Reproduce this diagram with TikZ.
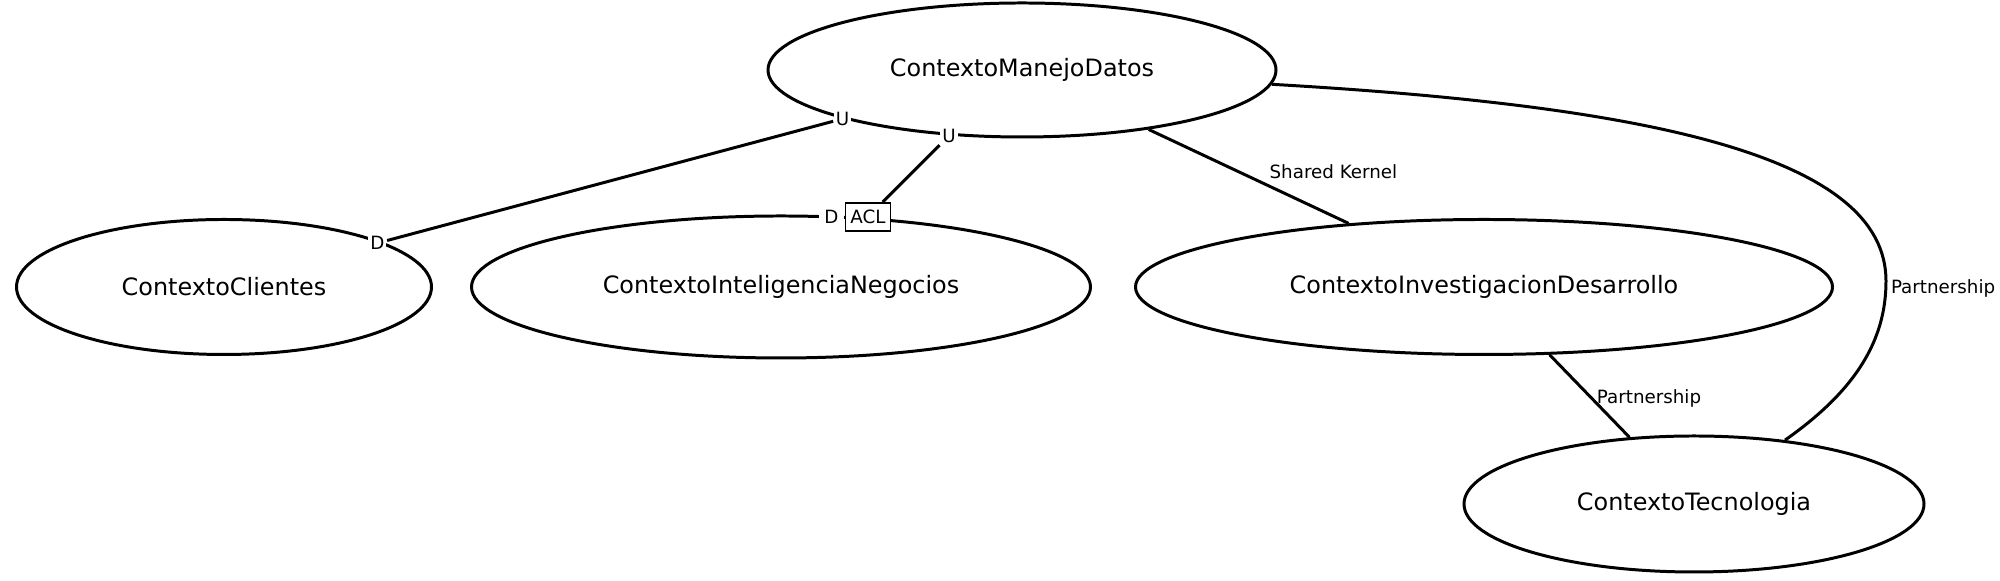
\documentclass[tikz,border=0pt]{standalone}
\usepackage{fontspec}
\setmainfont{DejaVu Sans}
\usetikzlibrary{positioning, shapes.geometric}

\begin{document}
\begin{tikzpicture}[
    ctx/.style={draw, ellipse, line width=0.85pt, inner sep=0pt, font=\fontsize{6.8}{8}\selectfont},
    conn/.style={line width=0.85pt},
    endlbl/.style={fill=white, inner sep=0.6pt, font=\fontsize{5.2}{6}\selectfont},
    rel/.style={inner sep=1pt, font=\fontsize{5.2}{6}\selectfont},
    aclbox/.style={draw, line width=0.4pt, fill=white, inner sep=1.4pt, minimum height=0.28cm, font=\fontsize{5.2}{6}\selectfont},
]
    \useasboundingbox (0,0) rectangle (20,5.81);

    % bounded contexts
    \node[ctx, minimum width=5.08cm, minimum height=1.34cm] (md) at (10.22,5.11) {ContextoManejoDatos};
    \node[ctx, minimum width=4.15cm, minimum height=1.35cm] (cl) at (2.24,2.94) {ContextoClientes};
    \node[ctx, minimum width=6.19cm, minimum height=1.42cm] (in) at (7.81,2.94) {ContextoInteligenciaNegocios};
    \node[ctx, minimum width=6.97cm, minimum height=1.35cm] (id) at (14.84,2.94) {ContextoInvestigacionDesarrollo};
    \node[ctx, minimum width=4.60cm, minimum height=1.36cm] (te) at (16.94,0.77) {ContextoTecnologia};

    % upstream / downstream
    \path (cl) -- (md) node[endlbl, pos=0, xshift=-0.08cm] (dCl) {D} node[endlbl, pos=1] (uCl) {U};
    \draw[conn] (dCl) -- (uCl);

    \path (in) -- (md) node[aclbox, pos=0, xshift=0.09cm] (acl) {ACL} node[endlbl, pos=1] (uIn) {U};
    \node[endlbl, inner xsep=1.6pt, left=0pt of acl] (dIn) {D};
    \draw[conn] (acl) -- (uIn);

    % symmetric relations
    \draw[conn] (md) -- (id) node[rel, pos=0.58, anchor=south west] (lblSk) {Shared Kernel};
    \draw[conn] (id) -- (te) node[rel, pos=0.53, anchor=west] (lblPid) {Partnership};

    \coordinate (bend) at (18.86,3.0);
    \draw[conn] (md) .. controls (16.5,4.75) and (18.86,4.25) .. (bend)
        node[rel, anchor=west, yshift=-0.07cm] (lblPmd) {Partnership}
        .. controls (18.86,2.4) and (18.55,1.9) .. (te);
\end{tikzpicture}
\end{document}
